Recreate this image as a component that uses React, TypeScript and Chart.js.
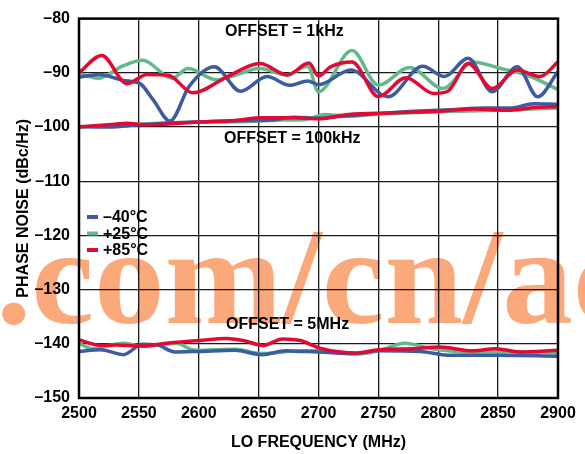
import React, { useEffect, useRef } from 'react';
import { Chart, registerables } from 'chart.js';

Chart.register(...registerables);

// ---------- data ----------
const X_MIN = 2500;
const X_MAX = 2900;
const Y_MIN = -150;
const Y_MAX = -80;
const LEGEND_LABELS = ['–40°C', '+25°C', '+85°C'];
const OFFSET_LABELS = ['OFFSET = 1kHz', 'OFFSET = 100kHz', 'OFFSET = 5MHz'];
const X_TITLE = 'LO FREQUENCY (MHz)';
const Y_TITLE = 'PHASE NOISE (dBc/Hz)';
const WATERMARK = '.com/cn/ac';

// OFFSET = 1kHz
const blue1kF = [2500, 2517, 2537, 2551, 2562, 2576, 2592, 2613, 2635, 2657, 2676, 2691, 2700, 2727, 2758, 2787, 2805, 2825, 2845, 2866, 2883, 2900];
const blue1kV = [-90.8, -90.3, -91.4, -92.0, -95.0, -98.9, -92.5, -88.9, -93.4, -90.7, -92.3, -91.5, -92.2, -89.5, -94.4, -88.8, -90.7, -87.3, -93.5, -88.9, -94.4, -89.8];
const green1kF = [2500, 2516, 2537, 2553, 2578, 2591, 2615, 2651, 2673, 2691, 2700, 2728, 2750, 2776, 2804, 2829, 2852, 2875, 2900];
const green1kV = [-90.1, -91.0, -88.7, -87.7, -91.0, -89.2, -91.3, -89.2, -90.4, -88.8, -93.5, -85.9, -92.3, -89.0, -92.9, -88.0, -89.2, -90.5, -93.1];
const red1kF = [2500, 2519, 2540, 2557, 2575, 2595, 2624, 2651, 2674, 2692, 2700, 2710, 2728, 2750, 2773, 2796, 2808, 2825, 2845, 2866, 2885, 2900];
const red1kV = [-90.0, -86.8, -92.0, -90.3, -90.5, -93.7, -90.7, -88.3, -90.4, -88.2, -90.6, -88.9, -88.0, -94.4, -90.9, -93.8, -93.4, -88.3, -92.9, -89.5, -90.7, -88.0];

// OFFSET = 100kHz
const blue100kF = [2500, 2525, 2550, 2580, 2610, 2640, 2660, 2680, 2700, 2720, 2750, 2780, 2810, 2840, 2860, 2880, 2900];
const blue100kV = [-99.9, -100.0, -99.6, -99.2, -99.0, -98.8, -98.7, -98.2, -98.4, -98.0, -97.5, -97.1, -96.8, -96.5, -96.5, -95.7, -95.8];
const green100kF = [2500, 2530, 2560, 2600, 2640, 2670, 2690, 2705, 2725, 2750, 2800, 2850, 2900];
const green100kV = [-100.0, -99.7, -99.4, -99.1, -99.0, -98.7, -98.6, -97.7, -98.0, -97.6, -97.2, -96.9, -96.5];
const red100kF = [2500, 2530, 2540, 2555, 2600, 2630, 2653, 2680, 2700, 2725, 2760, 2800, 2830, 2860, 2880, 2900];
const red100kV = [-100.0, -99.5, -99.3, -99.6, -99.1, -98.8, -98.3, -98.3, -98.5, -97.7, -97.4, -97.1, -96.7, -96.9, -96.4, -96.2];

// OFFSET = 5MHz
const blue5MF = [2500, 2518, 2537, 2553, 2565, 2580, 2600, 2630, 2653, 2673, 2685, 2700, 2730, 2750, 2785, 2808, 2850, 2900];
const blue5MV = [-141.4, -141.1, -142.0, -140.1, -140.2, -141.5, -141.4, -141.2, -142.0, -141.3, -141.4, -141.5, -141.8, -141.3, -141.4, -142.1, -142.1, -142.3];
const green5MF = [2500, 2511, 2537, 2555, 2581, 2597, 2630, 2653, 2685, 2700, 2733, 2750, 2772, 2795, 2825, 2865, 2900];
const green5MV = [-139.9, -140.9, -139.9, -140.5, -139.9, -141.2, -141.0, -141.8, -141.3, -141.3, -141.9, -141.3, -139.9, -140.9, -141.5, -141.5, -141.7];
const red5MF = [2500, 2518, 2531, 2551, 2573, 2600, 2623, 2637, 2654, 2670, 2685, 2701, 2732, 2750, 2778, 2801, 2829, 2848, 2868, 2900];
const red5MV = [-139.3, -140.3, -140.2, -140.4, -139.9, -139.4, -139.0, -139.4, -140.3, -139.1, -139.4, -140.8, -141.7, -141.1, -140.9, -140.6, -141.3, -140.9, -141.5, -141.2];

// ---------- styles ----------
const BLUE = '#3B5CA0';
const GREEN = '#64B98C';
const RED = '#E10A34';
const SANS = '"Liberation Sans", Arial, Helvetica, sans-serif';
const SERIF = '"Liberation Serif", "Times New Roman", serif';

const pts = (f: number[], v: number[]) => f.map((x, i) => ({ x, y: v[i] }));

const ds = (label: string, f: number[], v: number[], color: string) => ({
  label,
  data: pts(f, v),
  borderColor: color,
  backgroundColor: color,
  borderWidth: 3.5,
  pointRadius: 0,
  pointHoverRadius: 0,
  tension: 0.4,
  cubicInterpolationMode: 'monotone' as const,
  fill: false,
});

const decorPlugin = {
  id: 'decor',
  afterDraw(chart: any) {
    const { ctx, chartArea: a } = chart;
    ctx.save();
    // frame
    ctx.strokeStyle = '#000';
    ctx.lineWidth = 2.5;
    ctx.strokeRect(a.left, a.top, a.right - a.left, a.bottom - a.top);

    // legend
    const colors = [BLUE, GREEN, RED];
    const rows = [217, 233.5, 250];
    ctx.font = `bold 16px ${SANS}`;
    ctx.textBaseline = 'middle';
    ctx.textAlign = 'left';
    for (let i = 0; i < 3; i++) {
      ctx.strokeStyle = colors[i];
      ctx.lineWidth = 4;
      ctx.beginPath();
      ctx.moveTo(87, rows[i]);
      ctx.lineTo(98, rows[i]);
      ctx.stroke();
      ctx.fillStyle = '#000';
      ctx.fillText(LEGEND_LABELS[i], 103, rows[i] + 1);
    }

    // offset annotations
    ctx.font = `bold 16px ${SANS}`;
    ctx.fillStyle = '#000';
    ctx.fillText(OFFSET_LABELS[0], 225, 32);
    ctx.fillText(OFFSET_LABELS[1], 224, 138.5);
    ctx.fillText(OFFSET_LABELS[2], 226, 325);

    // axis titles
    ctx.textAlign = 'center';
    ctx.fillText(X_TITLE, (a.left + a.right) / 2, 443);
    ctx.save();
    ctx.translate(24, (a.top + a.bottom) / 2);
    ctx.rotate(-Math.PI / 2);
    ctx.fillText(Y_TITLE, 0, 0);
    ctx.restore();

    // watermark
    ctx.globalCompositeOperation = 'multiply';
    ctx.fillStyle = 'rgb(251,168,122)';
    ctx.font = `bold 138px ${SERIF}`;
    ctx.textAlign = 'left';
    ctx.textBaseline = 'alphabetic';
    const w = ctx.measureText(WATERMARK.slice(0, 9)).width;
    const sx = 577 / w;
    ctx.translate(-4, 323);
    ctx.scale(sx, 1);
    ctx.fillText(WATERMARK, 0, 0);
    ctx.restore();
  },
};

export default function App() {
  const ref = useRef<HTMLCanvasElement | null>(null);

  useEffect(() => {
    if (!ref.current) return;
    const chart = new Chart(ref.current, {
      type: 'line',
      data: {
        datasets: [
          ds('+85°C 1k', red1kF, red1kV, RED),
          ds('+85°C 100k', red100kF, red100kV, RED),
          ds('+85°C 5M', red5MF, red5MV, RED),
          ds('–40°C 1k', blue1kF, blue1kV, BLUE),
          ds('–40°C 100k', blue100kF, blue100kV, BLUE),
          ds('–40°C 5M', blue5MF, blue5MV, BLUE),
          ds('+25°C 1k', green1kF, green1kV, GREEN),
          ds('+25°C 100k', green100kF, green100kV, GREEN),
          ds('+25°C 5M', green5MF, green5MV, GREEN),
        ],
      },
      options: {
        responsive: false,
        animation: false,
        events: [],
        layout: { padding: { left: 0, top: 14, right: 27, bottom: 0 } },
        plugins: {
          legend: { display: false },
          tooltip: { enabled: false },
          title: { display: false },
        },
        scales: {
          x: {
            type: 'linear',
            min: X_MIN,
            max: X_MAX,
            border: { display: false },
            grid: { color: '#1a1a1a', lineWidth: 1.3, drawTicks: false },
            ticks: {
              stepSize: 50,
              color: '#000',
              padding: 6,
              maxRotation: 0,
              font: { family: SANS, size: 16, weight: 'bold' },
              callback: (v: any) => String(v),
            },
            afterFit: (s: any) => {
              s.height = 56;
            },
          },
          y: {
            type: 'linear',
            min: Y_MIN,
            max: Y_MAX,
            border: { display: false },
            grid: { color: '#1a1a1a', lineWidth: 1.3, drawTicks: false },
            ticks: {
              stepSize: 10,
              color: '#000',
              padding: 9,
              font: { family: SANS, size: 16, weight: 'bold' },
              callback: (v: any) => String(v).replace('-', '–'),
            },
            afterFit: (s: any) => {
              s.width = 79;
            },
          },
        },
      },
      plugins: [decorPlugin],
    });
    return () => chart.destroy();
  }, []);

  return (
    <div style={{ position: 'fixed', left: 0, top: 0, width: 585, height: 454, background: '#fff' }}>
      <canvas ref={ref} width={585} height={454} />
    </div>
  );
}
